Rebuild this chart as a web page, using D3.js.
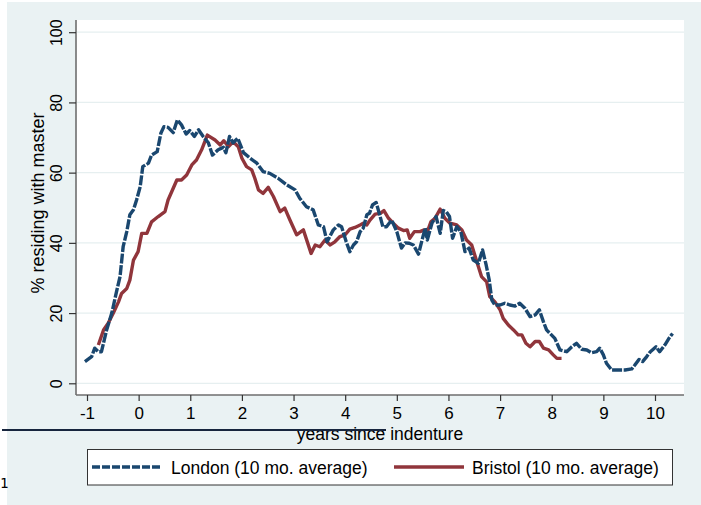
<!DOCTYPE html>
<html>
<head>
<meta charset="utf-8">
<script src="https://cdn.jsdelivr.net/npm/d3@7"></script>
<style>
  html, body { margin: 0; padding: 0; background: #ffffff; }
  svg { display: block; }
  text { font-family: "Liberation Sans", Arial, sans-serif; fill: #000; }
</style>
</head>
<body>
<svg id="chart" width="701" height="505"></svg>
<script>
// Share of apprentices still residing with their master, by years since indenture
const londonYears = [-1.04,-0.91,-0.85,-0.78,-0.72,-0.62,-0.52,-0.43,-0.36,-0.30,-0.23,-0.17,-0.10,-0.04,0.03,0.08,0.19,0.25,0.36,0.43,0.49,0.57,0.67,0.75,0.83,0.92,0.99,1.08,1.16,1.25,1.35,1.43,1.54,1.64,1.69,1.76,1.83,1.92,2.03,2.16,2.29,2.41,2.54,2.70,2.87,3.03,3.12,3.25,3.38,3.48,3.58,3.65,3.77,3.87,3.93,4.02,4.09,4.16,4.22,4.29,4.35,4.42,4.47,4.53,4.60,4.66,4.73,4.80,4.90,5.00,5.09,5.16,5.24,5.32,5.42,5.48,5.55,5.59,5.68,5.76,5.84,5.90,5.96,6.02,6.08,6.16,6.24,6.32,6.40,6.48,6.58,6.66,6.73,6.79,6.84,6.90,7.00,7.09,7.19,7.29,7.38,7.48,7.58,7.68,7.76,7.84,7.90,7.98,8.06,8.16,8.29,8.39,8.48,8.58,8.68,8.77,8.87,8.93,9.00,9.06,9.16,9.29,9.42,9.55,9.61,9.69,9.76,9.84,9.91,10.02,10.09,10.19,10.27,10.34];
const londonValues = [6.2,7.6,10,9,9,15.2,20,26,30.4,38.9,43.2,48,49.4,52.2,56,61.7,62.7,65,66,71.2,73.1,72.9,71.4,75,73.6,71,72,70.3,72.2,70.3,68.5,65,66.5,67.2,65.7,70.3,68.5,69.8,65.7,64.1,62.7,60.3,59.8,58.4,56.5,55.1,52.7,50.3,49.4,45.1,44.6,40.3,43.7,45.1,44.6,40.3,37.5,39.4,40.3,43.2,44.2,48,48.4,50.8,51.5,48.4,44.6,44.6,46.5,43.2,38.5,40,39.9,39.4,36.8,40.3,44.2,40.8,45.6,47.5,42.7,49.2,48.8,47.5,41.3,44.6,43.2,37.5,38.5,35.1,34.2,38,33.7,29.4,23.7,22.3,22.3,22.8,22.3,22,22.8,21.4,19,19.5,20.9,17.5,15.2,14,12.8,9.5,9,10.4,11.4,9.7,9.5,8.7,9,10,8.1,5.7,3.8,3.8,3.8,4.1,5.2,6.8,6.2,7.6,9,10.4,9,10.9,12.8,14.2];

const bristolYears = [-0.78,-0.68,-0.59,-0.49,-0.39,-0.33,-0.23,-0.17,-0.10,-0.01,0.06,0.16,0.25,0.38,0.51,0.57,0.74,0.83,0.93,1.03,1.12,1.22,1.33,1.48,1.58,1.65,1.74,1.83,1.93,2.00,2.09,2.19,2.25,2.32,2.41,2.51,2.61,2.74,2.83,2.93,3.06,3.19,3.34,3.42,3.51,3.61,3.71,3.80,3.90,4.00,4.09,4.19,4.29,4.35,4.42,4.48,4.58,4.68,4.75,4.84,4.93,5.03,5.13,5.20,5.25,5.34,5.45,5.53,5.58,5.66,5.74,5.84,5.93,6.03,6.16,6.26,6.35,6.45,6.55,6.64,6.74,6.80,6.90,7.00,7.06,7.16,7.26,7.35,7.42,7.50,7.58,7.68,7.76,7.84,7.94,8.03,8.10,8.19];
const bristolValues = [10.9,15.2,17.1,20,23.2,25.6,27,29.4,35.1,37.5,42.7,42.7,46,47.5,48.9,52.2,57.9,57.9,59.3,62.2,63.6,66.5,70.7,69.3,67.9,69.1,67.4,68.8,67.4,64.1,61.7,60.8,58.4,55.1,54.1,55.8,53.2,48.9,49.9,46.5,42.3,43.7,37,39.4,38.9,40.8,39.4,40.3,41.8,42.3,43.9,44.4,45.1,45.6,45.1,46.5,48.2,48.4,49.2,47,45.6,44.2,43.5,43.7,41.3,43.2,43.2,43.7,42.7,46,47,49.6,47,45.6,45.1,43.7,40.8,39.4,34.6,30.4,28.9,24.7,23.2,20.9,18.5,16.6,15.2,13.8,13.8,11.4,10.4,11.9,11.9,10,9.5,8.1,7.1,7.1];

const xTicks = [-1,0,1,2,3,4,5,6,7,8,9,10];
const yTicks = [0,20,40,60,80,100];
const seriesNames = ["London (10 mo. average)", "Bristol (10 mo. average)"];
const xTitle = "years since indenture";
const yTitle = "% residing with master";

const svg = d3.select("#chart");
const colLondon = "#1a476f", colBristol = "#90353b";
const bg = "#eaf2f3";

// page background
svg.append("rect").attr("x", 7).attr("y", 2).attr("width", 694).attr("height", 503).attr("fill", bg);

// plot region
const plot = { left: 76, top: 20, right: 684, bottom: 395 };
svg.append("rect").attr("x", plot.left).attr("y", plot.top)
  .attr("width", plot.right - plot.left).attr("height", plot.bottom - plot.top).attr("fill", "#fff");

const x = d3.scaleLinear().domain([-1, 10]).range([87, 655]);
const y = d3.scaleLinear().domain([0, 100]).range([383.3, 32.2]);
const plainNum = d => String(d);  // ASCII hyphen for negatives

// gridlines
svg.append("g").selectAll("line").data(yTicks).join("line")
  .attr("x1", plot.left).attr("x2", plot.right)
  .attr("y1", d => y(d)).attr("y2", d => y(d))
  .attr("stroke", "#e6eff0").attr("stroke-width", 1.3);

// y axis
const yAxis = svg.append("g").attr("transform", `translate(${plot.left},0)`)
  .call(d3.axisLeft(y).tickValues(yTicks).tickSize(7).tickPadding(0).tickFormat(plainNum));
yAxis.select(".domain").attr("d", `M0,${plot.top}V${plot.bottom}`).attr("stroke", "#6e6e6e").attr("stroke-width", 1.6);
yAxis.selectAll(".tick line").attr("stroke", "#333").attr("stroke-width", 1.2);
yAxis.selectAll(".tick text")
  .attr("x", 0).attr("dy", null)
  .attr("transform", "translate(-14,0) rotate(-90)")
  .attr("text-anchor", "middle")
  .style("font-size", "16px").style("font-family", "Liberation Sans, Arial, sans-serif").attr("fill", "#000");

// x axis
const xAxis = svg.append("g").attr("transform", `translate(0,${plot.bottom})`)
  .call(d3.axisBottom(x).tickValues(xTicks).tickSize(6).tickPadding(0).tickFormat(plainNum));
xAxis.select(".domain").attr("d", `M${plot.left},0H${plot.right}`).attr("stroke", "#6e6e6e").attr("stroke-width", 1.6);
xAxis.selectAll(".tick line").attr("stroke", "#333").attr("stroke-width", 1.2);
xAxis.selectAll(".tick text").attr("y", 24).attr("dy", null)
  .style("font-size", "17px").style("font-family", "Liberation Sans, Arial, sans-serif").attr("fill", "#000");

// axis titles
svg.append("text").attr("x", 380).attr("y", 440).attr("text-anchor", "middle")
  .style("font-size", "17.5px").text(xTitle);
svg.append("text").attr("transform", "translate(44,203) rotate(-90)").attr("text-anchor", "middle")
  .style("font-size", "18px").text(yTitle);

// series lines
const line = d3.line().x(d => x(d[0])).y(d => y(d[1]));
const londonPts = londonYears.map((v, i) => [v, londonValues[i]]);
const bristolPts = bristolYears.map((v, i) => [v, bristolValues[i]]);

svg.append("path").datum(bristolPts).attr("d", line)
  .attr("fill", "none").attr("stroke", colBristol).attr("stroke-width", 3.4).attr("stroke-linejoin", "round");
svg.append("path").datum(londonPts).attr("d", line)
  .attr("fill", "none").attr("stroke", colLondon).attr("stroke-width", 3.4)
  .attr("stroke-dasharray", "10,1.6").attr("stroke-linejoin", "round");

// separator rule and footnote marker
svg.append("line").attr("x1", 2).attr("x2", 386).attr("y1", 430).attr("y2", 430)
  .attr("stroke", "#17253d").attr("stroke-width", 2);
svg.append("text").attr("x", 0).attr("y", 488).style("font-size", "14px")
  .style("font-family", "DejaVu Sans Mono, monospace").attr("fill", "#44546c").text("1");

// legend
const lg = svg.append("g");
lg.append("rect").attr("x", 87.5).attr("y", 449.5).attr("width", 585).attr("height", 35.5)
  .attr("fill", "#fff").attr("stroke", "#333").attr("stroke-width", 1);
const legendItems = [
  { name: seriesNames[0], color: colLondon, dash: "8,2", x1: 92, x2: 161, tx: 171 },
  { name: seriesNames[1], color: colBristol, dash: null, x1: 394, x2: 464, tx: 472 }
];
legendItems.forEach(it => {
  lg.append("line").attr("x1", it.x1).attr("x2", it.x2).attr("y1", 467).attr("y2", 467)
    .attr("stroke", it.color).attr("stroke-width", 3.4).attr("stroke-dasharray", it.dash);
  lg.append("text").attr("x", it.tx).attr("y", 473.5).style("font-size", "17.5px").text(it.name);
});
</script>
</body>
</html>
